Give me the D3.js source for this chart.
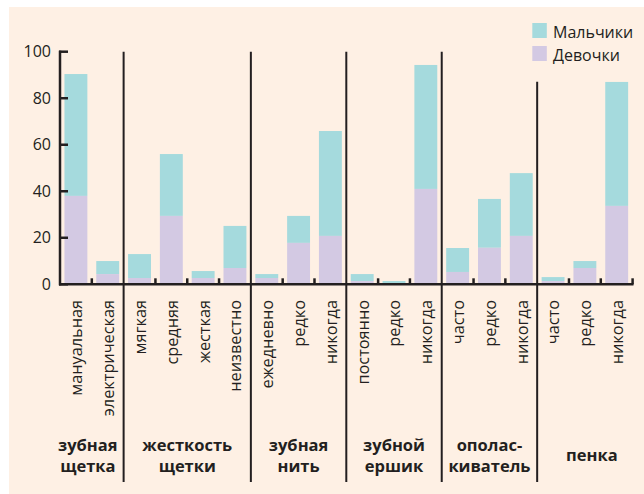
<!DOCTYPE html>
<html><head><meta charset="utf-8">
<script src="https://cdn.jsdelivr.net/npm/d3@7/dist/d3.min.js"></script>
<style>html,body{margin:0;padding:0;background:#fff;} svg{display:block;}</style>
</head><body>
<script>
const categories = ["мануальная","электрическая","мягкая","средняя","жесткая","неизвестно","ежедневно","редко","никогда","постоянно","редко","никогда","часто","редко","никогда","часто","редко","никогда"];
const girls = [38, 4.4, 2.7, 29.4, 2.7, 7, 2.7, 17.8, 20.8, 1.4, 0.5, 41, 5.3, 15.7, 20.8, 1.4, 7, 33.7];
const boys  = [52.4, 5.6, 10.3, 26.6, 3, 18.1, 1.7, 11.6, 45.1, 3, 0.9, 53.3, 10.3, 21, 27, 1.7, 3, 53.3];
const groups = [["зубная","щетка"],["жесткость","щетки"],["зубная","нить"],["зубной","ершик"],["ополас-","киватель"],["пенка"]];
const groupSizes = [2,4,3,3,3,3];
const yTicks = [0,20,40,60,80,100];
const seriesNames = ["Мальчики","Девочки"];
const colors = {boys:"#a5dadd", girls:"#d3c9e3", bg:"#fef0e4", ink:"#231f20"};

const W=644,H=494;
const svg=d3.select("body").append("svg").attr("width",W).attr("height",H);
svg.append("rect").attr("x",9).attr("y",7).attr("width",W-9).attr("height",H-7).attr("fill",colors.bg);

const font="'Open Sans', 'Noto Sans', sans-serif";
const x=d3.scaleBand().domain(d3.range(categories.length)).range([60,632.6]).paddingInner(0.28).paddingOuter(0.14);
const y=d3.scaleLinear().domain([0,100]).range([284.3,51.7]);

// bars
const g=svg.append("g");
categories.forEach((c,i)=>{
  g.append("rect").attr("x",x(i)).attr("width",x.bandwidth())
    .attr("y",y(girls[i]+boys[i])).attr("height",y(girls[i])-y(girls[i]+boys[i])).attr("fill",colors.boys);
  g.append("rect").attr("x",x(i)).attr("width",x.bandwidth())
    .attr("y",y(girls[i])).attr("height",y(0)-y(girls[i])).attr("fill",colors.girls);
});

const step=x.step();
const slot=i=>60+i*step;
let bounds=[0]; groupSizes.forEach(s=>bounds.push(bounds[bounds.length-1]+s));

// y axis
const yAxis=d3.axisLeft(y).tickValues(yTicks).tickSize(0).tickPadding(9);
const ya=svg.append("g").attr("transform","translate(60,0)").call(yAxis);
ya.select(".domain").remove();
ya.selectAll("text").attr("font-family",font).attr("font-size",16).attr("fill",colors.ink);
svg.append("line").attr("x1",60).attr("x2",60).attr("y1",y(100)-1).attr("y2",y(0)+1).attr("stroke",colors.ink).attr("stroke-width",2.5);
yTicks.forEach(t=>svg.append("line").attr("x1",59).attr("x2",68).attr("y1",y(t)).attr("y2",y(t)).attr("stroke",colors.ink).attr("stroke-width",2.5));

// x axis
svg.append("line").attr("x1",59).attr("x2",633.5).attr("y1",y(0)).attr("y2",y(0)).attr("stroke",colors.ink).attr("stroke-width",2.5);
for(let i=1;i<=categories.length;i++){
  if(bounds.includes(i) && i<categories.length) continue;
  svg.append("line").attr("x1",slot(i)).attr("x2",slot(i)).attr("y1",y(0)).attr("y2",y(0)-6).attr("stroke",colors.ink).attr("stroke-width",2.5);
}
// separators
bounds.slice(1,-1).forEach((b,k)=>{
  const top = (k===bounds.length-3)? 81.7 : 51.7;
  svg.append("line").attr("x1",slot(b)).attr("x2",slot(b)).attr("y1",top).attr("y2",482).attr("stroke",colors.ink).attr("stroke-width",2);
});

// category labels
categories.forEach((c,i)=>{
  svg.append("text").attr("transform",`translate(${x(i)+x.bandwidth()/2+0.5},300) rotate(-90)`)
    .attr("text-anchor","end").attr("dy","0.36em").attr("font-family",font).attr("font-size",16.3).attr("fill",colors.ink).text(c);
});

// group labels
groups.forEach((lines,k)=>{
  let cx=(slot(bounds[k])+slot(bounds[k+1]))/2;
  if(k===0) cx-=4;
  if(k===groups.length-1) cx+=7;
  const t=svg.append("text").attr("text-anchor","middle").attr("font-family",font).attr("font-weight","bold").attr("font-size",16.5).attr("fill",colors.ink);
  if(lines.length===2){
    t.append("tspan").attr("x",cx).attr("y",450.5).text(lines[0]);
    t.append("tspan").attr("x",cx).attr("y",472).text(lines[1]);
  } else {
    t.append("tspan").attr("x",cx).attr("y",461).text(lines[0]);
  }
});

// legend
const lg=svg.append("g");
[[seriesNames[0],colors.boys,23],[seriesNames[1],colors.girls,46]].forEach(([n,c,yy])=>{
  lg.append("rect").attr("x",532.3).attr("y",yy).attr("width",14.5).attr("height",15).attr("fill",c);
  lg.append("text").attr("x",553).attr("y",yy+14.5).attr("font-family",font).attr("font-size",16).attr("fill",colors.ink).text(n);
});
</script>
</body></html>
